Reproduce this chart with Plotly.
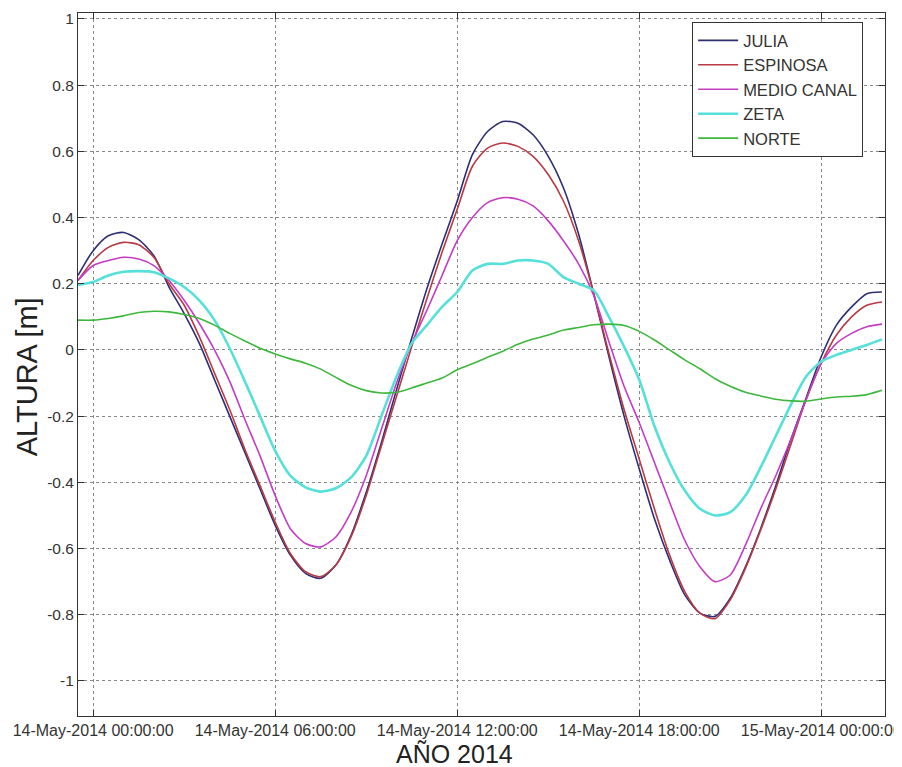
import pandas as pd
import plotly.graph_objects as go

# sample times: every 30 minutes from 13-May-2014 23:30
TIMES = pd.date_range("2014-05-13 23:30", "2014-05-15 02:00", freq="30min")

JULIA = [0.225, 0.30, 0.345, 0.355, 0.333, 0.285, 0.19, 0.11, 0.02, -0.09,
         -0.2, -0.31, -0.42, -0.53, -0.62, -0.675, -0.69, -0.65, -0.56, -0.43,
         -0.28, -0.12, 0.035, 0.185, 0.32, 0.45, 0.59, 0.66, 0.69, 0.685,
         0.65, 0.585, 0.49, 0.35, 0.17, -0.02, -0.2, -0.36, -0.51, -0.635,
         -0.74, -0.795, -0.805, -0.75, -0.655, -0.54, -0.41, -0.27, -0.145, -0.02,
         0.075, 0.13, 0.17, 0.175]

ESPINOSA = [0.21, 0.27, 0.31, 0.325, 0.318, 0.28, 0.2, 0.135, 0.04, -0.07,
            -0.18, -0.3, -0.41, -0.52, -0.615, -0.67, -0.685, -0.65, -0.565, -0.44,
            -0.29, -0.14, 0.01, 0.155, 0.295, 0.425, 0.555, 0.61, 0.625, 0.615,
            0.585, 0.53, 0.45, 0.33, 0.17, -0.01, -0.18, -0.33, -0.48, -0.62,
            -0.73, -0.795, -0.812, -0.755, -0.66, -0.545, -0.42, -0.285, -0.15, -0.04,
            0.045, 0.1, 0.135, 0.145]

MEDIO_CANAL = [0.21, 0.255, 0.27, 0.28, 0.275, 0.255, 0.21, 0.15, 0.08, 0.0,
               -0.095, -0.21, -0.32, -0.44, -0.54, -0.585, -0.595, -0.565, -0.49, -0.38,
               -0.24, -0.1, 0.02, 0.12, 0.225, 0.33, 0.4, 0.445, 0.46, 0.455,
               0.435, 0.39, 0.33, 0.26, 0.165, 0.025, -0.11, -0.22, -0.34, -0.46,
               -0.575, -0.655, -0.7, -0.68, -0.59, -0.48, -0.38, -0.27, -0.15, -0.04,
               0.02, 0.05, 0.07, 0.078]

ZETA = [0.196, 0.205, 0.225, 0.236, 0.238, 0.235, 0.216, 0.19, 0.15, 0.09,
        0.005, -0.095, -0.2, -0.305, -0.38, -0.415, -0.428, -0.418, -0.385, -0.32,
        -0.2, -0.08, 0.02, 0.075, 0.13, 0.175, 0.24, 0.26, 0.26, 0.27,
        0.27, 0.26, 0.22, 0.2, 0.18, 0.1, 0.01, -0.09, -0.23, -0.34,
        -0.425, -0.48, -0.5, -0.49, -0.44, -0.355, -0.26, -0.165, -0.08, -0.035,
        -0.015, 0.0, 0.015, 0.032]

NORTE = [0.09, 0.09, 0.095, 0.103, 0.113, 0.117, 0.115, 0.107, 0.095, 0.075,
         0.05, 0.027, 0.005, -0.012, -0.027, -0.04, -0.058, -0.083, -0.107, -0.123,
         -0.13, -0.128, -0.115, -0.1, -0.085, -0.06, -0.042, -0.022, -0.004, 0.017,
         0.033, 0.045, 0.06, 0.068, 0.076, 0.078, 0.074, 0.056, 0.03, 0.0,
         -0.03, -0.057, -0.087, -0.11, -0.128, -0.139, -0.149, -0.154, -0.155, -0.148,
         -0.142, -0.14, -0.135, -0.122]

SERIES = [
    ("JULIA", JULIA, "#2e2e74", 1.6),
    ("ESPINOSA", ESPINOSA, "#b83a44", 1.6),
    ("MEDIO CANAL", MEDIO_CANAL, "#c43cc4", 1.6),
    ("ZETA", ZETA, "#55e0da", 2.6),
    ("NORTE", NORTE, "#3db83d", 1.6),
]

X_TICKS = ["2014-05-14 00:00", "2014-05-14 06:00", "2014-05-14 12:00",
           "2014-05-14 18:00", "2014-05-15 00:00"]
X_TICK_TEXT = ["14-May-2014 00:00:00", "14-May-2014 06:00:00", "14-May-2014 12:00:00",
               "14-May-2014 18:00:00", "15-May-2014 00:00:00"]
Y_TICKS = [1, 0.8, 0.6, 0.4, 0.2, 0, -0.2, -0.4, -0.6, -0.8, -1]
Y_TICK_TEXT = ["1", "0.8", "0.6", "0.4", "0.2", "0", "-0.2", "-0.4", "-0.6", "-0.8", "-1"]

fig = go.Figure()
for i, (name, vals, color, width) in enumerate(SERIES):
    fig.add_trace(go.Scatter(x=TIMES, y=vals, mode="lines", name=name,
                             legendgroup=f"g{i}",
                             line=dict(color=color, width=width,
                                       shape="spline", smoothing=0.7)))

font_family = "Liberation Sans, Arial, sans-serif"
# the page body has an 8px margin, so the figure is made 8px smaller
fig.update_layout(
    width=894, height=759,
    margin=dict(l=70, r=17, t=5, b=51),
    paper_bgcolor="white", plot_bgcolor="white",
    font=dict(family=font_family, color="#222"),
    legend=dict(x=0.761, y=0.987, xanchor="left", yanchor="top",
                bgcolor="white", bordercolor="#333", borderwidth=1,
                font=dict(size=16.5, family=font_family, color="#333"),
                tracegroupgap=0, itemwidth=40),
    showlegend=True,
)
fig.update_xaxes(
    type="date",
    range=["2014-05-13 23:30", "2014-05-15 02:06"],
    tickvals=X_TICKS, ticktext=X_TICK_TEXT,
    tickfont=dict(size=16, color="#333"),
    ticks="inside", ticklen=6, tickcolor="#333",
    showline=True, linecolor="#333", linewidth=1, mirror="ticks",
    showgrid=True, gridcolor="#888", griddash="dot", gridwidth=1,
    zeroline=False, automargin=False,
)
fig.update_yaxes(
    range=[-1.106, 1.018],
    tickvals=Y_TICKS, ticktext=Y_TICK_TEXT,
    tickfont=dict(size=15.5, color="#333"),
    ticks="inside", ticklen=6, tickcolor="#333",
    showline=True, linecolor="#333", linewidth=1, mirror="ticks",
    showgrid=True, gridcolor="#888", griddash="dot", gridwidth=1,
    zeroline=False, automargin=False,
)
fig.add_annotation(text="ALTURA [m]", xref="paper", yref="paper",
                   x=-0.063, y=0.482, xanchor="center", yanchor="middle",
                   textangle=-90, showarrow=False,
                   font=dict(size=29, family=font_family, color="#222"))
fig.add_annotation(text="AÑO 2014", xref="paper", yref="paper",
                   x=0.467, y=-0.054, xanchor="center", yanchor="middle",
                   showarrow=False,
                   font=dict(size=25, family=font_family, color="#222"))

fig.write_html("out.html")
